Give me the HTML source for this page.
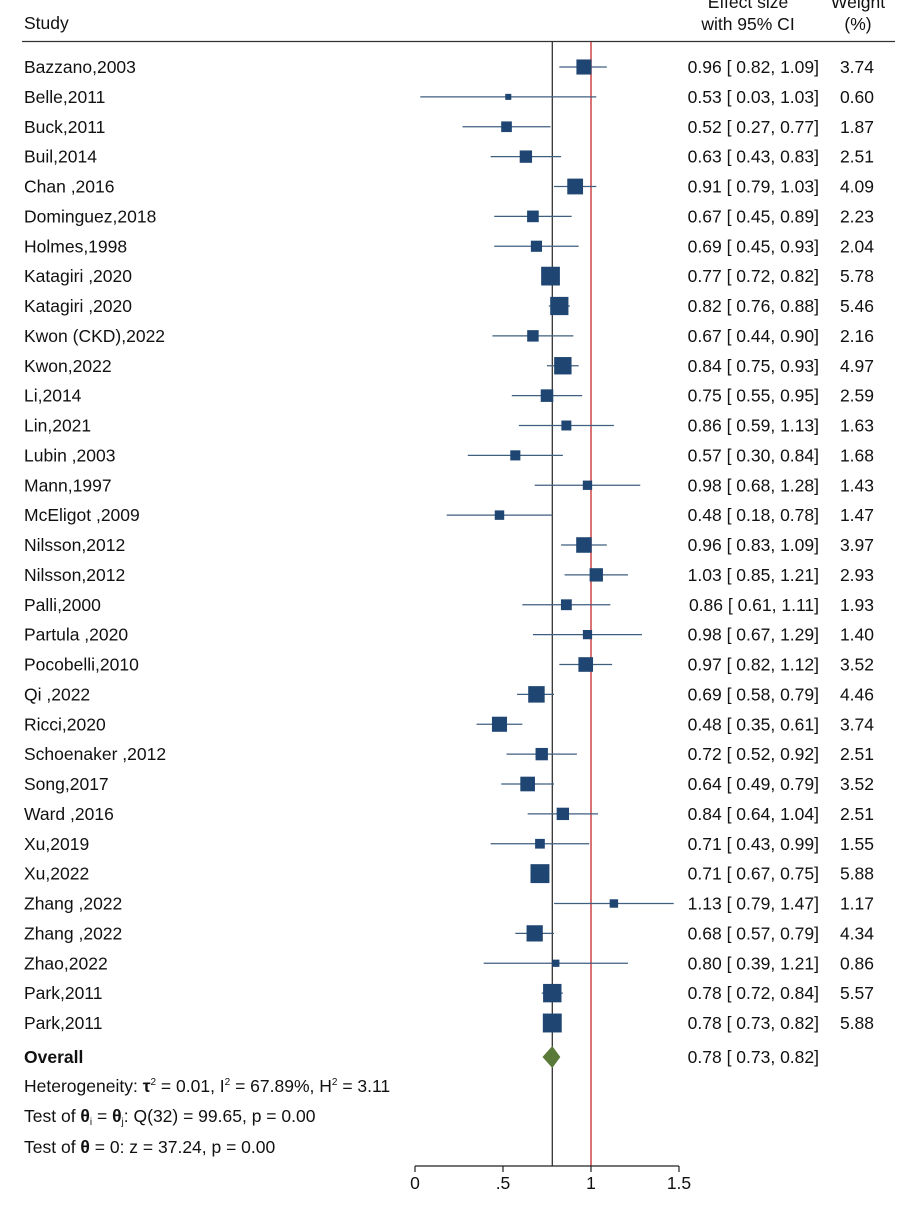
<!DOCTYPE html>
<html><head><meta charset="utf-8"><style>
body{margin:0;background:#fff}
svg text{font-family:"Liberation Sans",Arial,sans-serif;font-size:17.5px;fill:#111}
</style></head><body>
<svg width="920" height="1200" xmlns="http://www.w3.org/2000/svg">
<g id="hdr">
<text x="24" y="29">Study</text>
<text x="748" y="8" text-anchor="middle">Effect size</text>
<text x="748" y="30" text-anchor="middle">with 95% CI</text>
<text x="858" y="8" text-anchor="middle">Weight</text>
<text x="858" y="30" text-anchor="middle">(%)</text>
<line x1="22" y1="41.5" x2="895" y2="41.5" stroke="#333" stroke-width="1.3"/>
</g>
<g id="plot"></g>
<g>
<text x="24" y="1063" font-weight="bold">Overall</text>
<text x="24" y="1092">Heterogeneity: <tspan font-weight="bold">τ</tspan><tspan font-size="10" dy="-7">2</tspan><tspan dy="7"> = 0.01, I</tspan><tspan font-size="10" dy="-7">2</tspan><tspan dy="7"> = 67.89%, H</tspan><tspan font-size="10" dy="-7">2</tspan><tspan dy="7"> = 3.11</tspan></text>
<text x="24" y="1122">Test of <tspan font-weight="bold">θ</tspan><tspan font-size="10" dy="3">i</tspan><tspan dy="-3"> = </tspan><tspan font-weight="bold">θ</tspan><tspan font-size="10" dy="3">j</tspan><tspan dy="-3">: Q(32) = 99.65, p = 0.00</tspan></text>
<text x="24" y="1153">Test of <tspan font-weight="bold">θ</tspan> = 0: z = 37.24, p = 0.00</text>
</g>
</svg>
<script>
const studies=["Bazzano,2003","Belle,2011","Buck,2011","Buil,2014","Chan  ,2016","Dominguez,2018","Holmes,1998","Katagiri ,2020","Katagiri ,2020","Kwon (CKD),2022","Kwon,2022","Li,2014","Lin,2021","Lubin ,2003","Mann,1997","McEligot ,2009","Nilsson,2012","Nilsson,2012","Palli,2000","Partula ,2020","Pocobelli,2010","Qi ,2022","Ricci,2020","Schoenaker ,2012","Song,2017","Ward ,2016","Xu,2019","Xu,2022","Zhang ,2022","Zhang ,2022","Zhao,2022","Park,2011","Park,2011"];
const est=[0.96,0.53,0.52,0.63,0.91,0.67,0.69,0.77,0.82,0.67,0.84,0.75,0.86,0.57,0.98,0.48,0.96,1.03,0.86,0.98,0.97,0.69,0.48,0.72,0.64,0.84,0.71,0.71,1.13,0.68,0.80,0.78,0.78];
const lo=[0.82,0.03,0.27,0.43,0.79,0.45,0.45,0.72,0.76,0.44,0.75,0.55,0.59,0.30,0.68,0.18,0.83,0.85,0.61,0.67,0.82,0.58,0.35,0.52,0.49,0.64,0.43,0.67,0.79,0.57,0.39,0.72,0.73];
const hi=[1.09,1.03,0.77,0.83,1.03,0.89,0.93,0.82,0.88,0.90,0.93,0.95,1.13,0.84,1.28,0.78,1.09,1.21,1.11,1.29,1.12,0.79,0.61,0.92,0.79,1.04,0.99,0.75,1.47,0.79,1.21,0.84,0.82];
const weights=[3.74,0.60,1.87,2.51,4.09,2.23,2.04,5.78,5.46,2.16,4.97,2.59,1.63,1.68,1.43,1.47,3.97,2.93,1.93,1.40,3.52,4.46,3.74,2.51,3.52,2.51,1.55,5.88,1.17,4.34,0.86,5.57,5.88];
const overall=[0.78,0.73,0.82];
const ticks=[0,0.5,1,1.5];
const tickLabels=["0",".5","1","1.5"];
const NS="http://www.w3.org/2000/svg";
const X=v=>415+v*176;
const Y=i=>67+i*29.875;
const g=document.getElementById('plot');
function mk(t,a){const e=document.createElementNS(NS,t);for(const k in a)e.setAttribute(k,a[k]);g.appendChild(e);return e;}
const f2=v=>v.toFixed(2);
let e;
e=mk('line',{x1:X(1),y1:42,x2:X(1),y2:1166,stroke:'#d05050','stroke-width':1.6});


e=mk('line',{x1:X(overall[0]),y1:42,x2:X(overall[0]),y2:1166,stroke:'#222','stroke-width':1.2});


studies.forEach((s,i)=>{
 const y=Y(i);
 e=mk('text',{x:24,y:y+6});e.textContent=s;
 
 
 e=mk('line',{x1:X(lo[i]),y1:y,x2:X(hi[i]),y2:y,stroke:'#3f5f7f','stroke-width':1.3});
 
 
 const sd=7.8*Math.sqrt(weights[i]);
 e=mk('rect',{x:X(est[i])-sd/2,y:y-sd/2,width:sd,height:sd,fill:'#1f4672'});
 
 
 e=mk('text',{x:819,y:y+6,'text-anchor':'end'});e.textContent=f2(est[i])+' [ '+f2(lo[i])+',  '+f2(hi[i])+']';
 
 
 e=mk('text',{x:874,y:y+6,'text-anchor':'end'});e.textContent=f2(weights[i]);
 
 
});
const oy=1057;
e=mk('polygon',{points:`${X(overall[1])-1},${oy} ${X(overall[0])},${oy-11} ${X(overall[2])+1},${oy} ${X(overall[0])},${oy+11}`,fill:'#5a7a3a'});


e=mk('text',{x:819,y:oy+6,'text-anchor':'end'});e.textContent=f2(overall[0])+' [ '+f2(overall[1])+',  '+f2(overall[2])+']';


e=mk('line',{x1:X(0),y1:1166,x2:X(1.5),y2:1166,stroke:'#222','stroke-width':1.2});


ticks.forEach((t,i)=>{
 e=mk('line',{x1:X(t),y1:1166,x2:X(t),y2:1172,stroke:'#222','stroke-width':1.2});
 
 
 e=mk('text',{x:X(t),y:1189,'text-anchor':'middle'});e.textContent=tickLabels[i];
 
 
});
</script>
</body></html>
